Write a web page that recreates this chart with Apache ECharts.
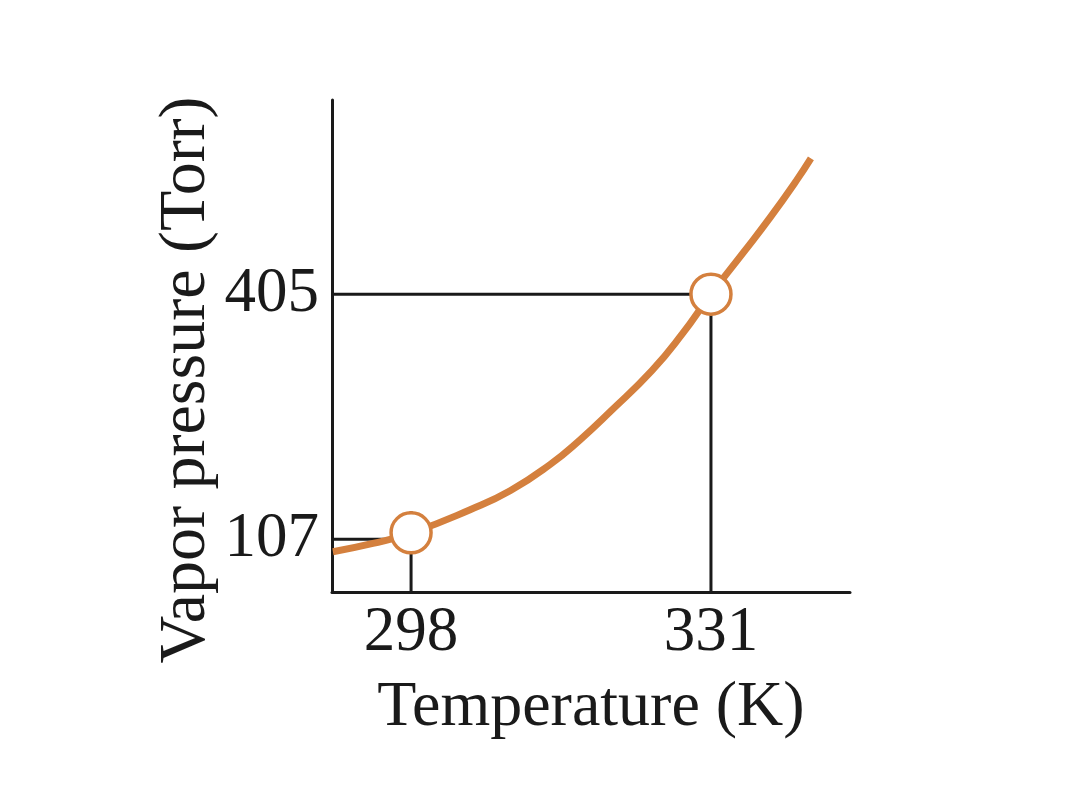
<!DOCTYPE html>
<html>
<head>
<meta charset="utf-8">
<script src="https://cdn.jsdelivr.net/npm/echarts@6/dist/echarts.min.js"></script>
<style>
html,body{margin:0;padding:0;background:#fff;}
#chart{width:1079px;height:794px;}
</style>
</head>
<body>
<div id="chart"></div>
<script>
// Curve (Temperature K, Vapor pressure Torr)
const temps     = [289.4, 293.8, 298.1, 304.5, 308.9, 313.3, 316.6, 319.9, 324.5, 327.8, 331.0, 334.6, 337.5, 340.4, 342.0];
const pressures = [92,    102,   115,   143,   166,   198,   228,   262,   312,   356,   405,   456,   498,   543,   570];
// Highlighted points (open circles)
const pointTemps     = [298, 331];
const pointPressures = [115, 405];
// Tick labels
const xTicks = [298, 331];
const yTicks = [107, 405];
// Axis ranges
const xRange = [289.3, 346.3];
const yRange = [43, 641];

const ORANGE = '#D4803E';
const INK = '#1a1a1a';
const FONT = '"Liberation Serif", "DejaVu Serif", serif';

const curve = temps.map((t, i) => [t, pressures[i]]);
const points = pointTemps.map((t, i) => [t, pointPressures[i]]);

const guide = (data) => ({
  type: 'line', data, symbol: 'none', silent: true, z: 1,
  lineStyle: { color: INK, width: 3 }, animation: false
});

const chart = echarts.init(document.getElementById('chart'));
chart.setOption({
  backgroundColor: '#fff',
  animation: false,
  grid: { left: 332, top: 100, right: 229, bottom: 202 },
  xAxis: {
    type: 'value', min: xRange[0], max: xRange[1],
    name: 'Temperature (K)', nameLocation: 'middle', nameGap: 84,
    nameTextStyle: { fontFamily: FONT, fontSize: 64, color: INK },
    axisLine: { show: true, onZero: false, lineStyle: { color: INK, width: 3 } },
    axisTick: { show: false },
    splitLine: { show: false },
    axisLabel: { customValues: xTicks, fontFamily: FONT, fontSize: 63, color: INK, margin: 10 }
  },
  yAxis: {
    type: 'value', min: yRange[0], max: yRange[1],
    axisLine: { show: true, onZero: false, lineStyle: { color: INK, width: 3 } },
    axisTick: { show: false },
    splitLine: { show: false },
    axisLabel: { customValues: yTicks, fontFamily: FONT, fontSize: 63, color: INK, margin: 13 }
  },
  graphic: [{
    type: 'text',
    rotation: Math.PI / 2,
    x: 187, y: 380,
    style: { text: 'Vapor pressure (Torr)', font: '66px "Liberation Serif", serif', fill: INK,
             align: 'center', verticalAlign: 'middle' }
  }],
  series: [
    guide([[xRange[0], yTicks[0]], [xTicks[0], yTicks[0]]]),
    guide([[xTicks[0], yRange[0]], [xTicks[0], 141]]),
    guide([[xRange[0], yTicks[1]], [xTicks[1], yTicks[1]]]),
    guide([[xTicks[1], yRange[0]], [xTicks[1], yTicks[1]]]),
    {
      type: 'line', data: curve, symbol: 'none', smooth: 0.5, z: 3,
      lineStyle: { color: ORANGE, width: 7, cap: 'butt' }
    },
    {
      type: 'scatter', data: points, symbol: 'circle', symbolSize: 40, z: 4,
      itemStyle: { color: '#fff', opacity: 1, borderColor: ORANGE, borderWidth: 3.5 }
    }
  ]
});
</script>
</body>
</html>
